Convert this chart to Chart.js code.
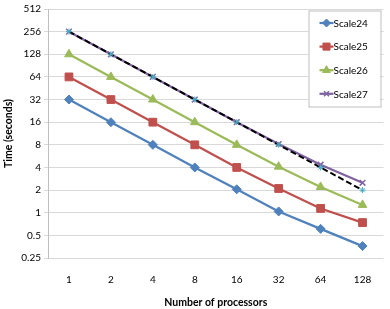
<!DOCTYPE html>
<html>
<head>
<meta charset="utf-8">
<script src="https://cdn.jsdelivr.net/npm/chart.js@4"></script>
<style>
  body { margin: 0; background: #fff; }
  #wrap { width: 390px; height: 309px; }
</style>
</head>
<body>
<div id="wrap"><canvas id="myChart"></canvas></div>
<script>
const processors = ['1', '2', '4', '8', '16', '32', '64', '128']
const scale24 = [32, 16, 8, 4, 2.05, 1.04, 0.61, 0.36]
const scale25 = [64, 32, 16, 8, 4, 2.1, 1.14, 0.74]
const scale26 = [128, 64, 32, 16, 8, 4.1, 2.2, 1.27]
const scale27 = [256, 128, 64, 32, 16, 8.2, 4.35, 2.5]
const ideal = [256, 128, 64, 32, 16, 8, 4, 2]
const yTicks = [0.25, 0.5, 1, 2, 4, 8, 16, 32, 64, 128, 256, 512]

const FONT = 'Lato, "Open Sans", sans-serif'

function series(label, data, color, style, radius, order) {
    return {
        label: label,
        data: data,
        borderColor: color,
        backgroundColor: color,
        pointBackgroundColor: color,
        pointBorderColor: color,
        borderWidth: 2.25,
        pointStyle: style,
        pointRadius: radius,
        pointBorderWidth: style === 'crossRot' ? 1.5 : 1,
        tension: 0,
        order: order
    }
}

// legend sits inside the plot, top right, like the Excel original
const legendBox = {
    id: 'legendBox',
    afterDraw: function(chart) {
        const ctx = chart.ctx
        const area = chart.chartArea
        const w = 72, h = 96
        const left = area.right - w - 3
        const top = area.top + 1.5
        ctx.save()
        ctx.fillStyle = '#ffffff'
        ctx.fillRect(left, top, w, h)
        ctx.strokeStyle = '#bfbfbf'
        ctx.lineWidth = 1
        ctx.strokeRect(left + 0.5, top + 0.5, w, h)
        ctx.font = '10px ' + FONT
        ctx.textBaseline = 'middle'
        const shown = chart.data.datasets.filter(function(d) { return d.label !== 'Ideal' })
        shown.forEach(function(ds, i) {
            const y = top + 12.5 + i * 23.6
            const x0 = left + 11
            ctx.strokeStyle = ds.borderColor
            ctx.lineWidth = 2.25
            ctx.setLineDash([])
            ctx.beginPath()
            ctx.moveTo(x0, y)
            ctx.lineTo(x0 + 14, y)
            ctx.stroke()
            ctx.fillStyle = ds.borderColor
            ctx.lineWidth = ds.pointBorderWidth
            Chart.helpers.drawPoint(ctx, {
                pointStyle: ds.pointStyle,
                radius: ds.pointRadius - 0.5,
                rotation: 0,
                borderWidth: ds.pointBorderWidth
            }, x0 + 7, y)
            ctx.fillStyle = '#000000'
            ctx.fillText(ds.label, x0 + 14, y + 0.5)
        })
        ctx.restore()
    }
}

const idealSet = series('Ideal', ideal, '#4BACC6', 'star', 3, 1)
idealSet.borderColor = '#000000'
idealSet.borderDash = [6, 3]
idealSet.borderWidth = 2

const ctx = document.getElementById('myChart').getContext('2d')
window.myChartInstance = new Chart(ctx, {
    type: 'line',
    data: {
        labels: processors,
        datasets: [
            series('Scale24', scale24, '#4F81BD', 'rectRot', 4.5, 5),
            series('Scale25', scale25, '#C0504D', 'rect', 5.5, 4),
            series('Scale26', scale26, '#9BBB59', 'triangle', 5, 3),
            series('Scale27', scale27, '#8064A2', 'crossRot', 4, 2),
            idealSet
        ]
    },
    options: {
        responsive: true,
        maintainAspectRatio: false,
        animation: false,
        layout: {
            padding: { top: 5, right: 4, left: 0, bottom: 0 }
        },
        scales: {
            y: {
                type: 'logarithmic',
                min: 0.25,
                max: 512,
                afterBuildTicks: function(scale) {
                    scale.ticks = yTicks.map(function(v) { return { value: v } })
                },
                afterFit: function(scale) {
                    scale.width = 48
                },
                grid: {
                    color: '#d9d9d9',
                    tickLength: 4
                },
                border: {
                    color: '#bfbfbf'
                },
                ticks: {
                    autoSkip: false,
                    color: '#000000',
                    padding: 3,
                    font: { family: FONT, size: 10 },
                    callback: function(value) {
                        return String(value)
                    }
                },
                title: {
                    display: true,
                    text: 'Time (seconds)',
                    color: '#000000',
                    padding: { top: 2.5, bottom: 2 },
                    font: { family: FONT, size: 10.5, weight: 'bold' }
                }
            },
            x: {
                offset: true,
                afterFit: function(scale) {
                    scale.height = 51
                },
                grid: {
                    display: false
                },
                border: {
                    display: false
                },
                ticks: {
                    color: '#000000',
                    padding: 8,
                    font: { family: FONT, size: 10 }
                },
                title: {
                    display: true,
                    text: 'Number of processors',
                    color: '#000000',
                    padding: { top: 13, bottom: 0 },
                    font: { family: FONT, size: 10.5, weight: 'bold' }
                }
            }
        },
        plugins: {
            legend: { display: false },
            tooltip: { enabled: false }
        }
    },
    plugins: [legendBox]
})
</script>
</body>
</html>
